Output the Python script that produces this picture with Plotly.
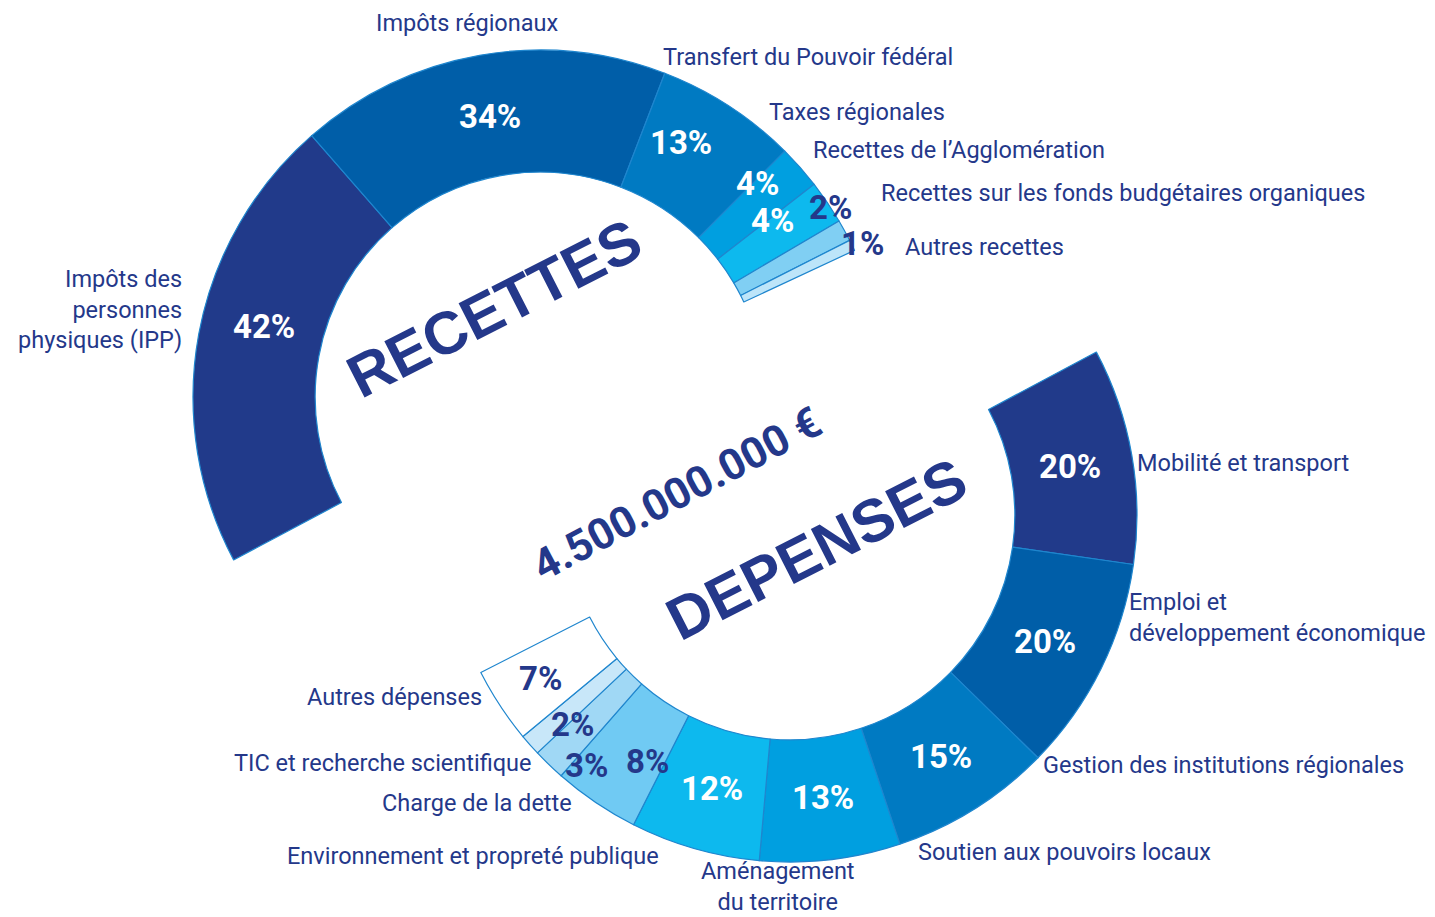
import math
import plotly.graph_objects as go

W, H = 1435, 917

# ---------------- data ----------------
rec_labels = ["Impôts des<br>personnes<br>physiques (IPP)", "Impôts régionaux",
              "Transfert du Pouvoir fédéral", "Taxes régionales",
              "Recettes de l’Agglomération",
              "Recettes sur les fonds budgétaires organiques", "Autres recettes"]
rec_pct = [42, 34, 13, 4, 4, 2, 1]

dep_labels = ["Mobilité et transport", "Emploi et<br>développement économique",
              "Gestion des institutions régionales", "Soutien aux pouvoirs locaux",
              "Aménagement<br>du territoire", "Environnement et propreté publique",
              "Charge de la dette", "TIC et recherche scientifique", "Autres dépenses"]
dep_pct = [20, 20, 15, 13, 12, 8, 3, 2, 7]

total_amount = "4.500.000.000 €"

# ---------------- styles ----------------
NAVY = "#24388A"
rec_colors = ["#213A8A", "#005EA8", "#007AC2", "#009FE0", "#0DB9EE", "#80CFF3", "#BDE5F9"]
dep_colors = ["#213A8A", "#005EA8", "#007AC2", "#009FE0", "#0DB9EE", "#70CAF3", "#A0D8F5", "#C8E7F9", "#FFFFFF"]
rec_txtcol = ["white", "white", "white", "white", "white", NAVY, NAVY]
dep_txtcol = ["white", "white", "white", "white", "white", NAVY, NAVY, NAVY, NAVY]
# (angle nudge in degrees, radius factor) for the percentage labels
rec_txtpos = [(4, 0.82), (0, 0.82), (-4, 0.84), (-3, 0.88), (-3, 0.84), (-4.5, 1.0), (0.5, 1.03)]
dep_txtpos = [(0, 0.82), (0, 0.82), (0, 0.82), (0, 0.82), (0, 0.82), (-4, 0.82), (-5, 0.93), (-2.5, 0.87), (0, 0.86)]

# label placement (px): x, y, xanchor, align
rec_lblpos = [(184, 309, "right", "right"), (467, 23, "center", "center"),
              (661, 57, "left", "left"), (767, 112, "left", "left"),
              (811, 150, "left", "left"), (879, 193, "left", "left"),
              (903, 247, "left", "left")]
dep_lblpos = [(1135, 463, "left", "left"), (1127, 617, "left", "left"),
              (1041, 765, "left", "left"), (916, 852, "left", "left"),
              (778, 886, "center", "center"), (661, 856, "right", "right"),
              (574, 803, "right", "right"), (534, 763, "right", "right"),
              (484, 697, "right", "right")]

R = 347.0
HOLE = 0.648
rec_center = (540.0, 397.0)
dep_center = (790.0, 515.0)
rec_start, rec_span = 242.0, 183.0   # clock angles (deg, clockwise from 12 o'clock)
dep_start, dep_span = 62.0, 181.0


def domain(c):
    cx, cy = c
    return dict(x=[(cx - R) / W, (cx + R) / W], y=[1 - (cy + R) / H, 1 - (cy - R) / H])


def pie_trace(vals, colors, c, start, span):
    tot = sum(vals)
    filler = tot * (360.0 - span) / span
    n = len(vals)
    return go.Pie(
        values=list(vals) + [filler],
        labels=[f"s{i}" for i in range(n + 1)],
        sort=False, direction="clockwise", rotation=start, hole=HOLE,
        marker=dict(colors=list(colors) + ["rgba(0,0,0,0)"],
                    line=dict(color="#1F86CE", width=[1.2] * n + [0])),
        textinfo="none", hoverinfo="skip", showlegend=False,
        domain=domain(c),
    )


fig = go.Figure()
fig.add_trace(pie_trace(rec_pct, rec_colors, rec_center, rec_start, rec_span))
fig.add_trace(pie_trace(dep_pct, dep_colors, dep_center, dep_start, dep_span))

ann = []


def pct_annotations(vals, c, start, span, txtpos, txtcol):
    tot = sum(vals)
    cum = 0.0
    out = []
    for v, (nudge, rf), col in zip(vals, txtpos, txtcol):
        mid = start + (cum + v / 2.0) / tot * span + nudge
        cum += v
        th = math.radians(mid)
        r = R * rf
        px = c[0] + r * math.sin(th)
        py = c[1] - r * math.cos(th)
        out.append(dict(x=px / W, y=1 - py / H, xref="paper", yref="paper",
                        text=f"<b>{v}%</b>", showarrow=False,
                        xanchor="center", yanchor="middle",
                        font=dict(family="Roboto, Liberation Sans, sans-serif", size=33, color=col)))
    return out


ann += pct_annotations(rec_pct, rec_center, rec_start, rec_span, rec_txtpos, rec_txtcol)
ann += pct_annotations(dep_pct, dep_center, dep_start, dep_span, dep_txtpos, dep_txtcol)

for txt, (x, y, xa, al) in list(zip(rec_labels, rec_lblpos)) + list(zip(dep_labels, dep_lblpos)):
    ann.append(dict(x=x / W, y=1 - y / H, xref="paper", yref="paper", text=txt,
                    showarrow=False, xanchor=xa, yanchor="middle", align=al,
                    font=dict(family="Roboto, Liberation Sans, sans-serif", size=23.5, color=NAVY)))

big_font = dict(family="Liberation Sans, Arial, sans-serif", size=60, color=NAVY)
ann.append(dict(x=494 / W, y=1 - 308 / H, xref="paper", yref="paper", text="<b>RECETTES</b>",
                showarrow=False, textangle=-27, xanchor="center", yanchor="middle", font=big_font))
ann.append(dict(x=816 / W, y=1 - 549 / H, xref="paper", yref="paper", text="<b>DEPENSES</b>",
                showarrow=False, textangle=-27, xanchor="center", yanchor="middle", font=big_font))
ann.append(dict(x=676 / W, y=1 - 494 / H, xref="paper", yref="paper", text=f"<b>{total_amount}</b>",
                showarrow=False, textangle=-28, xanchor="center", yanchor="middle",
                font=dict(family="Roboto, Liberation Sans, sans-serif", size=43, color=NAVY)))

fig.update_layout(width=W, height=H, margin=dict(l=0, r=0, t=0, b=0),
                  paper_bgcolor="white", plot_bgcolor="white",
                  showlegend=False, annotations=ann)

fig.write_html("out.html")
